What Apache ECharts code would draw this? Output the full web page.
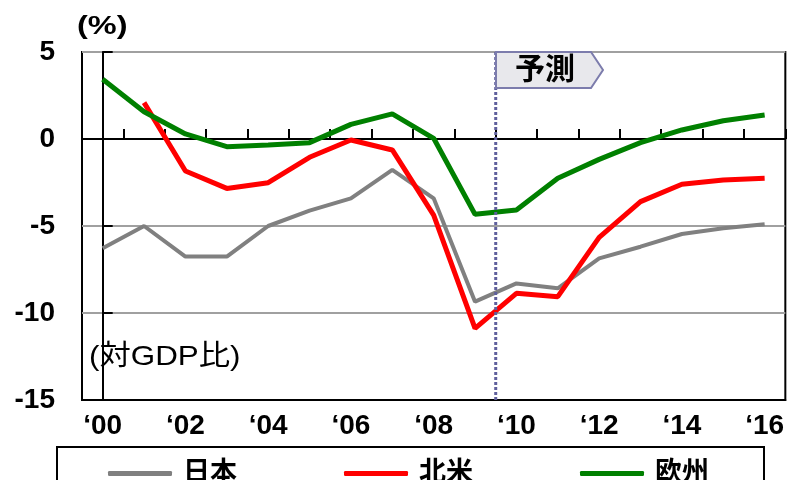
<!DOCTYPE html>
<html><head><meta charset="utf-8">
<script src="https://cdn.jsdelivr.net/npm/echarts@6/dist/echarts.min.js"></script>
<style>html,body{margin:0;padding:0;background:#fff}#c{width:787px;height:480px}</style>
</head><body><div id="c"></div>
<script>
const categories = ['‘00','‘01','‘02','‘03','‘04','‘05','‘06','‘07','‘08','‘09','‘10','‘11','‘12','‘13','‘14','‘15','‘16'];
const japan  = [-6.28,-5.0,-6.76,-6.76,-5.0,-4.12,-3.41,-1.78,-3.41,-9.35,-8.3,-8.58,-6.86,-6.19,-5.46,-5.13,-4.9];
const northAmerica = [null,2.09,-1.84,-2.84,-2.51,-1.05,-0.06,-0.63,-4.37,-10.88,-8.87,-9.06,-5.65,-3.6,-2.6,-2.36,-2.26];
const europe = [3.43,1.57,0.29,-0.44,-0.34,-0.21,0.84,1.44,0.04,-4.33,-4.08,-2.26,-1.17,-0.21,0.52,1.05,1.38];
const seriesNames = ['日本','北米','欧州'];
const forecastStart = 9.5; // boundary between '09 and '10
const yTicks = {min:-15, max:5, interval:5};

const FONT = '"Liberation Sans", Arial, "Noto Sans CJK JP", sans-serif';
const chart = echarts.init(document.getElementById('c'), null, {renderer:'canvas'});
const option = {
  animation:false,
  grid:{left:82, top:52, width:707, height:348, show:true, borderColor:'#000', borderWidth:2, backgroundColor:'transparent'},
  xAxis:[
    {type:'category', data:categories, position:'bottom', axisLine:{onZero:false, lineStyle:{color:'#000', width:2}},
     axisTick:{show:false}, axisLabel:{interval:1, margin:12, color:'#000', fontSize:28, fontWeight:'bold', fontFamily:FONT}},
    {type:'category', data:categories, position:'top', axisLine:{onZero:true, lineStyle:{color:'#000', width:2}},
     axisTick:{show:true, length:10, lineStyle:{color:'#000', width:2}}, axisLabel:{show:false}},
    {type:'value', min:-0.5, max:16.5, show:false, axisLine:{onZero:false}}
  ],
  yAxis:{type:'value', min:yTicks.min, max:yTicks.max, interval:yTicks.interval,
    axisLine:{show:true, lineStyle:{color:'#000', width:2}},
    axisTick:{show:true, inside:true, length:10, lineStyle:{color:'#000', width:2}},
    axisLabel:{margin:27, color:'#000', fontSize:28, fontWeight:'bold', fontFamily:FONT},
    splitLine:{show:true, lineStyle:{color:'#a0a0a0', width:2}}},
  legend:{data:seriesNames, left:57, top:447, orient:'horizontal', itemGap:107, itemWidth:64, itemHeight:5, icon:'roundRect',
    padding:[13,55,30,51], borderColor:'#000', borderWidth:2, backgroundColor:'#fff',
    textStyle:{fontSize:27, fontWeight:'bold', color:'#000', fontFamily:FONT, padding:[0,0,0,6]}},
  series:[
    {name:'日本', type:'line', data:japan, xAxisIndex:0, symbol:'none', lineStyle:{color:'#808080', width:4}, itemStyle:{color:'#808080'}, z:3},
    {name:'北米', type:'line', data:northAmerica, xAxisIndex:0, symbol:'none', lineStyle:{color:'#ff0000', width:5}, itemStyle:{color:'#ff0000'}, z:4},
    {name:'欧州', type:'line', data:europe, xAxisIndex:0, symbol:'none', lineStyle:{color:'#008000', width:5}, itemStyle:{color:'#008000'}, z:5},
    {name:'forecast', type:'line', xAxisIndex:2, data:[[forecastStart, yTicks.min],[forecastStart, yTicks.max]], symbol:'none', silent:true,
     lineStyle:{color:'#5f5f9c', width:3, type:[3,2]}, z:6}
  ]
};
chart.setOption(option);
const px = Math.round(chart.convertToPixel({xAxisIndex:2}, forecastStart));
const topY = chart.convertToPixel({yAxisIndex:0}, yTicks.max);
chart.setOption({graphic:[
  {type:'polygon', shape:{points:[[px,topY],[px+95,topY],[px+107,topY+18],[px+95,topY+36],[px,topY+36]]},
   style:{fill:'#e8e8ec', stroke:'#7c7cac', lineWidth:2}, z:10},
  {type:'text', x:px+49, y:topY+19, style:{text:'予測', font:'bold 30px '+FONT, fill:'#000', align:'center', verticalAlign:'middle'}, z:11},
  {type:'text', x:77, y:27, scaleX:1.3, style:{text:'(%)', font:'bold 25px '+FONT, fill:'#000', align:'left', verticalAlign:'middle'}, z:11},
  {type:'text', x:89, y:357, scaleX:1.12, style:{text:'(対GDP比)', font:'28px '+FONT, fill:'#000', align:'left', verticalAlign:'middle'}, z:11}
]});
</script></body></html>
